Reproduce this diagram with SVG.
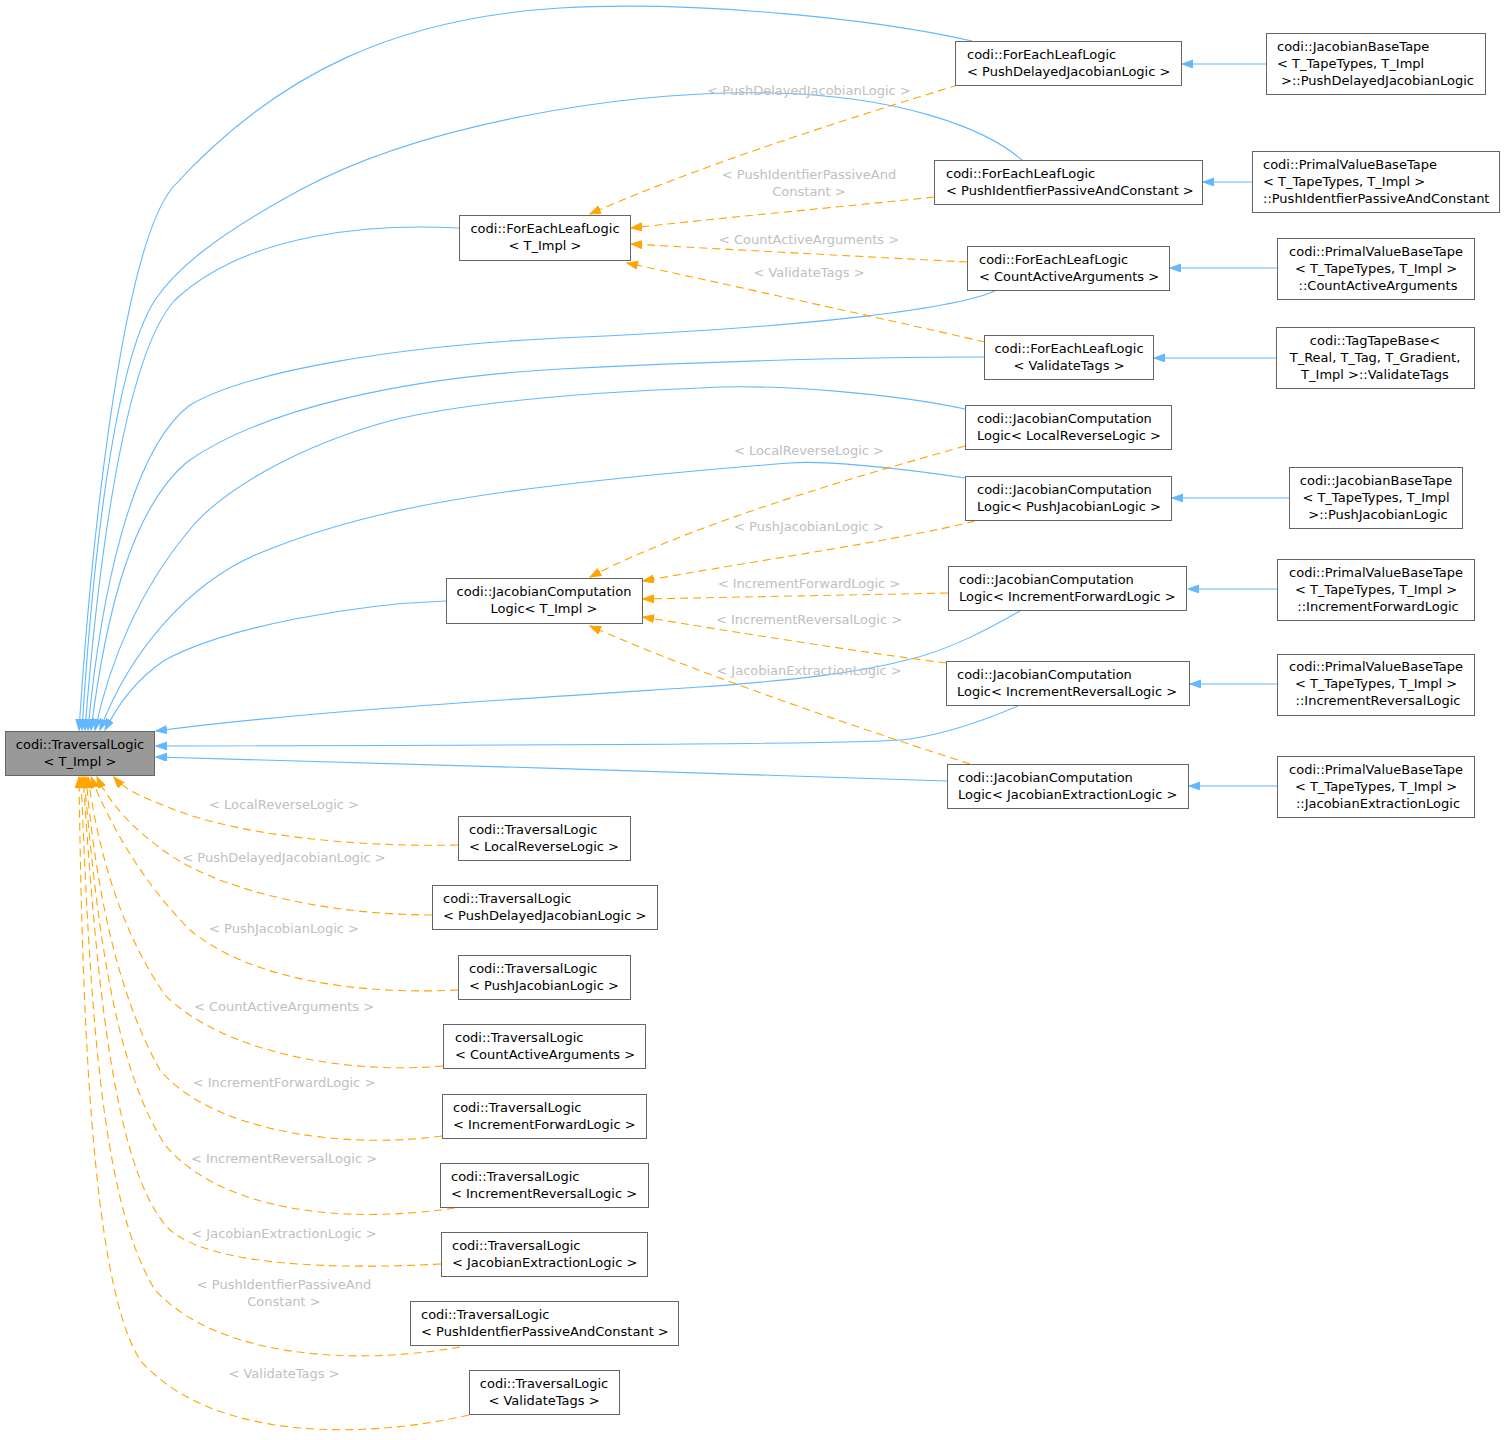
<svg xmlns="http://www.w3.org/2000/svg" width="1504" height="1440" viewBox="0 0 1504 1440">
<style>
text{font-family:"DejaVu Sans","Liberation Sans",sans-serif;font-size:13px;fill:#000}
.n rect{fill:#fff;stroke:#666;stroke-width:1}
.root rect{fill:#999}
.c{text-anchor:middle}
.lbl{fill:#c0c0c0;text-anchor:middle}
.b{fill:none;stroke:#63b8ff;stroke-width:1.1;marker-end:url(#ab)}
.o{fill:none;stroke:#ffa500;stroke-width:1.1;stroke-dasharray:8,5;marker-end:url(#ao)}
</style>
<defs>
<marker id="ab" markerUnits="userSpaceOnUse" markerWidth="12" markerHeight="9" refX="11" refY="4" orient="auto" viewBox="0 0 12 9"><path d="M0,0 L11,4 L0,8 z" fill="#63b8ff" stroke="#63b8ff" stroke-width="1"/></marker>
<marker id="ao" markerUnits="userSpaceOnUse" markerWidth="12" markerHeight="9" refX="11" refY="4" orient="auto" viewBox="0 0 12 9"><path d="M0,0 L11,4 L0,8 z" fill="#ffa500" stroke="#ffa500" stroke-width="1"/></marker>
</defs>
<rect width="1504" height="1440" fill="#fff"/>

<g id="connectors">
<path class="b" d="M972,41 C880,20 700,0 560,8 C400,18 280,70 173,187 C120,250 90,560 79,730"/>
<path class="b" d="M1022,160 C985,128 900,96 773,93 C620,90 420,125 300,190 C215,236 175,270 155,300 C110,370 90,600 82,730"/>
<path class="b" d="M459,228 C380,224 250,230 175,300 C120,360 95,600 85,730"/>
<path class="b" d="M995,291 C950,310 800,328 560,338 C400,346 250,370 190,405 C130,450 100,600 88,730"/>
<path class="b" d="M984,357 C850,357 700,362 560,369 C400,378 260,410 187,462 C130,510 105,620 91,730"/>
<path class="b" d="M965,409 C900,395 780,383 700,388 C600,392 480,400 393,420 C300,445 220,490 187,533 C140,590 110,660 95,730"/>
<path class="b" d="M965,478 C900,468 820,460 790,463 C700,470 620,478 560,485 C430,500 340,520 260,553 C190,582 130,650 100,730"/>
<path class="b" d="M446,601 C360,604 230,625 165,660 C135,680 118,705 105,730"/>
<path class="b" d="M1020,611 C990,628 950,650 907,660 C860,672 800,680 700,687 C500,700 300,712 156,731"/>
<path class="b" d="M1018,706 C990,718 950,733 910,739 C880,744 600,745 156,746"/>
<path class="b" d="M947,781 C700,772 400,764 156,757"/>
<path class="b" d="M1266,64 L1182,64"/>
<path class="b" d="M1252,182 L1203,182"/>
<path class="b" d="M1277,268 L1170,268"/>
<path class="b" d="M1276,358 L1154,358"/>
<path class="b" d="M1289,498 L1172,498"/>
<path class="b" d="M1277,589 L1188,589"/>
<path class="b" d="M1277,684 L1190,684"/>
<path class="b" d="M1277,786 L1189,786"/>
<path class="o" d="M958,85 C850,118 700,165 590,214"/>
<path class="o" d="M934,197 C850,206 720,218 631,228"/>
<path class="o" d="M967,262 C870,257 740,250 631,244"/>
<path class="o" d="M985,342 C880,318 720,283 627,263"/>
<path class="o" d="M965,446 C880,470 700,520 590,577"/>
<path class="o" d="M975,521 C900,540 760,560 643,581"/>
<path class="o" d="M948,593 C850,595 740,597 643,599"/>
<path class="o" d="M946,663 C860,652 740,633 643,617"/>
<path class="o" d="M970,764 C880,735 700,675 590,626"/>
<path class="o" d="M458,845 C380,847 250,840 170,808 C140,796 125,790 114,777"/>
<path class="o" d="M432,915 C340,915 230,895 170,855 C130,828 108,800 97,777"/>
<path class="o" d="M458,990 C360,995 250,980 190,930 C140,880 108,820 91,777"/>
<path class="o" d="M443,1066 C340,1075 220,1050 165,995 C120,930 98,850 88,777"/>
<path class="o" d="M442,1136 C340,1150 210,1130 160,1070 C115,990 95,880 86,777"/>
<path class="o" d="M455,1208 C340,1225 220,1210 165,1145 C110,1060 95,900 84,777"/>
<path class="o" d="M441,1264 C330,1270 210,1265 170,1230 C110,1170 95,950 83,777"/>
<path class="o" d="M460,1347 C360,1365 220,1360 155,1290 C100,1200 90,1000 81,777"/>
<path class="o" d="M469,1415 C360,1440 210,1440 140,1360 C90,1280 82,1000 79,777"/>
<text class="lbl" x="809" y="95">&lt; PushDelayedJacobianLogic &gt;</text>
<text class="lbl" x="809" y="179">&lt; PushIdentfierPassiveAnd</text>
<text class="lbl" x="809" y="196">Constant &gt;</text>
<text class="lbl" x="809" y="244">&lt; CountActiveArguments &gt;</text>
<text class="lbl" x="809" y="277">&lt; ValidateTags &gt;</text>
<text class="lbl" x="809" y="455">&lt; LocalReverseLogic &gt;</text>
<text class="lbl" x="809" y="531">&lt; PushJacobianLogic &gt;</text>
<text class="lbl" x="809" y="588">&lt; IncrementForwardLogic &gt;</text>
<text class="lbl" x="809" y="624">&lt; IncrementReversalLogic &gt;</text>
<text class="lbl" x="809" y="675">&lt; JacobianExtractionLogic &gt;</text>
<text class="lbl" x="284" y="809">&lt; LocalReverseLogic &gt;</text>
<text class="lbl" x="284" y="862">&lt; PushDelayedJacobianLogic &gt;</text>
<text class="lbl" x="284" y="933">&lt; PushJacobianLogic &gt;</text>
<text class="lbl" x="284" y="1011">&lt; CountActiveArguments &gt;</text>
<text class="lbl" x="284" y="1087">&lt; IncrementForwardLogic &gt;</text>
<text class="lbl" x="284" y="1163">&lt; IncrementReversalLogic &gt;</text>
<text class="lbl" x="284" y="1238">&lt; JacobianExtractionLogic &gt;</text>
<text class="lbl" x="284" y="1289">&lt; PushIdentfierPassiveAnd</text>
<text class="lbl" x="284" y="1306">Constant &gt;</text>
<text class="lbl" x="284" y="1378">&lt; ValidateTags &gt;</text>
</g>

<g id="root" class="n root"><rect x="5.5" y="731.5" width="149" height="44"/><text class="c" x="80" y="748.5">codi::TraversalLogic</text><text class="c" x="80" y="765.5">&lt; T_Impl &gt;</text></g>

<g id="fel_pushdelayed" class="n"><rect x="955.5" y="41.5" width="226" height="44"/><text x="967" y="59">codi::ForEachLeafLogic</text><text x="967" y="76">&lt; PushDelayedJacobianLogic &gt;</text></g>
<g id="jbt_pushdelayed" class="n"><rect x="1266.5" y="33.5" width="219" height="61"/><text x="1277" y="51">codi::JacobianBaseTape</text><text x="1277" y="68">&lt; T_TapeTypes, T_Impl</text><text x="1281" y="85">&gt;::PushDelayedJacobianLogic</text></g>
<g id="fel_pushident" class="n"><rect x="934.5" y="160.5" width="268" height="44"/><text x="946" y="178">codi::ForEachLeafLogic</text><text x="946" y="195">&lt; PushIdentfierPassiveAndConstant &gt;</text></g>
<g id="pvbt_pushident" class="n"><rect x="1252.5" y="151.5" width="247" height="61"/><text x="1263" y="169">codi::PrimalValueBaseTape</text><text x="1263" y="186">&lt; T_TapeTypes, T_Impl &gt;</text><text x="1263" y="203">::PushIdentfierPassiveAndConstant</text></g>
<g id="fel_timpl" class="n"><rect x="459.5" y="215.5" width="171" height="45"/><text class="c" x="545" y="233">codi::ForEachLeafLogic</text><text class="c" x="545" y="250">&lt; T_Impl &gt;</text></g>
<g id="fel_count" class="n"><rect x="967.5" y="246.5" width="202" height="44"/><text x="979" y="264">codi::ForEachLeafLogic</text><text x="979" y="281">&lt; CountActiveArguments &gt;</text></g>
<g id="pvbt_count" class="n"><rect x="1277.5" y="238.5" width="197" height="61"/><text class="c" x="1376" y="256">codi::PrimalValueBaseTape</text><text class="c" x="1376" y="273">&lt; T_TapeTypes, T_Impl &gt;</text><text class="c" x="1378" y="290">::CountActiveArguments</text></g>
<g id="fel_validate" class="n"><rect x="984.5" y="335.5" width="169" height="44"/><text class="c" x="1069" y="353">codi::ForEachLeafLogic</text><text class="c" x="1069" y="370">&lt; ValidateTags &gt;</text></g>
<g id="ttb_validate" class="n"><rect x="1276.5" y="327.5" width="198" height="61"/><text class="c" x="1375" y="345">codi::TagTapeBase&lt;</text><text class="c" x="1375" y="362">T_Real, T_Tag, T_Gradient,</text><text class="c" x="1375" y="379">T_Impl &gt;::ValidateTags</text></g>
<g id="jc_localreverse" class="n"><rect x="965.5" y="405.5" width="206" height="44"/><text x="977" y="423">codi::JacobianComputation</text><text x="977" y="440">Logic&lt; LocalReverseLogic &gt;</text></g>
<g id="jc_pushjacobian" class="n"><rect x="965.5" y="476.5" width="206" height="44"/><text x="977" y="494">codi::JacobianComputation</text><text x="977" y="511">Logic&lt; PushJacobianLogic &gt;</text></g>
<g id="jbt_pushjacobian" class="n"><rect x="1289.5" y="467.5" width="173" height="61"/><text class="c" x="1376" y="485">codi::JacobianBaseTape</text><text class="c" x="1376" y="502">&lt; T_TapeTypes, T_Impl</text><text class="c" x="1378" y="519">&gt;::PushJacobianLogic</text></g>
<g id="jc_timpl" class="n"><rect x="446.5" y="578.5" width="196" height="45"/><text class="c" x="544" y="596">codi::JacobianComputation</text><text class="c" x="544" y="613">Logic&lt; T_Impl &gt;</text></g>
<g id="jc_incfwd" class="n"><rect x="948.5" y="566.5" width="238" height="44"/><text x="959" y="584">codi::JacobianComputation</text><text x="959" y="601">Logic&lt; IncrementForwardLogic &gt;</text></g>
<g id="pvbt_incfwd" class="n"><rect x="1277.5" y="559.5" width="197" height="61"/><text class="c" x="1376" y="577">codi::PrimalValueBaseTape</text><text class="c" x="1376" y="594">&lt; T_TapeTypes, T_Impl &gt;</text><text class="c" x="1378" y="611">::IncrementForwardLogic</text></g>
<g id="jc_increv" class="n"><rect x="946.5" y="661.5" width="243" height="44"/><text x="957" y="679">codi::JacobianComputation</text><text x="957" y="696">Logic&lt; IncrementReversalLogic &gt;</text></g>
<g id="pvbt_increv" class="n"><rect x="1277.5" y="654.5" width="197" height="61"/><text class="c" x="1376" y="671">codi::PrimalValueBaseTape</text><text class="c" x="1376" y="688">&lt; T_TapeTypes, T_Impl &gt;</text><text class="c" x="1378" y="705">::IncrementReversalLogic</text></g>
<g id="jc_jacext" class="n"><rect x="947.5" y="764.5" width="241" height="44"/><text x="958" y="782">codi::JacobianComputation</text><text x="958" y="799">Logic&lt; JacobianExtractionLogic &gt;</text></g>
<g id="pvbt_jacext" class="n"><rect x="1277.5" y="756.5" width="197" height="61"/><text class="c" x="1376" y="774">codi::PrimalValueBaseTape</text><text class="c" x="1376" y="791">&lt; T_TapeTypes, T_Impl &gt;</text><text class="c" x="1378" y="808">::JacobianExtractionLogic</text></g>

<g id="tl_localreverse" class="n"><rect x="458.5" y="816.5" width="172" height="44"/><text x="469" y="834">codi::TraversalLogic</text><text x="469" y="851">&lt; LocalReverseLogic &gt;</text></g>
<g id="tl_pushdelayed" class="n"><rect x="432.5" y="885.5" width="225" height="44"/><text x="443" y="903">codi::TraversalLogic</text><text x="443" y="920">&lt; PushDelayedJacobianLogic &gt;</text></g>
<g id="tl_pushjacobian" class="n"><rect x="458.5" y="955.5" width="172" height="44"/><text x="469" y="973">codi::TraversalLogic</text><text x="469" y="990">&lt; PushJacobianLogic &gt;</text></g>
<g id="tl_count" class="n"><rect x="443.5" y="1024.5" width="202" height="44"/><text x="455" y="1042">codi::TraversalLogic</text><text x="455" y="1059">&lt; CountActiveArguments &gt;</text></g>
<g id="tl_incfwd" class="n"><rect x="442.5" y="1094.5" width="204" height="44"/><text x="453" y="1112">codi::TraversalLogic</text><text x="453" y="1129">&lt; IncrementForwardLogic &gt;</text></g>
<g id="tl_increv" class="n"><rect x="440.5" y="1163.5" width="208" height="44"/><text x="451" y="1181">codi::TraversalLogic</text><text x="451" y="1198">&lt; IncrementReversalLogic &gt;</text></g>
<g id="tl_jacext" class="n"><rect x="441.5" y="1232.5" width="206" height="44"/><text x="452" y="1250">codi::TraversalLogic</text><text x="452" y="1267">&lt; JacobianExtractionLogic &gt;</text></g>
<g id="tl_pushident" class="n"><rect x="410.5" y="1301.5" width="268" height="44"/><text x="421" y="1319">codi::TraversalLogic</text><text x="421" y="1336">&lt; PushIdentfierPassiveAndConstant &gt;</text></g>
<g id="tl_validate" class="n"><rect x="469.5" y="1370.5" width="150" height="44"/><text class="c" x="544" y="1388">codi::TraversalLogic</text><text class="c" x="544" y="1405">&lt; ValidateTags &gt;</text></g>
</svg>
